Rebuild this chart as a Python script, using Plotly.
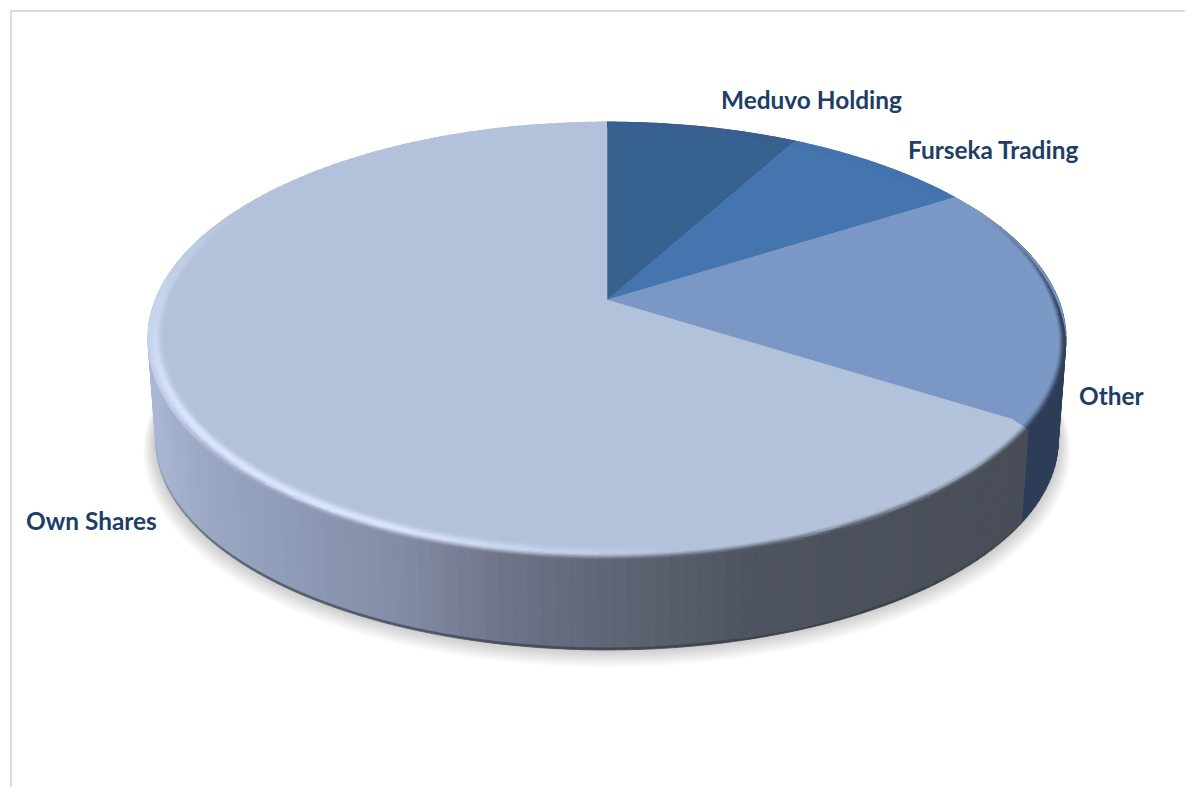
import math
from collections import defaultdict
import plotly.graph_objects as go

# Shareholder structure, clockwise from twelve o'clock
categories = ["Meduvo Holding", "Furseka Trading", "Other", "Own Shares"]
shares = [8, 8, 18, 66]

top_colors = ["#37618f", "#4575ae", "#7b97c5", "#b3c2db"]
LABEL_COLOR = "#203e65"
HIGHLIGHT = "#dbe6ff"

W, H = 1187, 787

# Perspective disc: upper and lower planes of the cylinder, in axis units
UPPER = dict(cx=607, cy=300, a=451.7, b=209.6, k=0.178)
LOWER = dict(cx=607, cy=403, a=444.0, b=203.0, k=0.178)


def project(theta, s=1.0, z=0.0):
    """Theta in degrees clockwise from the back; s radial fraction; z depth fraction."""
    t = math.radians(theta)
    u, v = s * math.sin(t), s * math.cos(t)
    pts = []
    for p in (UPPER, LOWER):
        w = 1 + p["k"] * v
        pts.append((p["cx"] + p["a"] * u / w, p["cy"] - p["b"] * v / w))
    return (pts[0][0] + (pts[1][0] - pts[0][0]) * z,
            pts[0][1] + (pts[1][1] - pts[0][1]) * z)


def rgb(c):
    return tuple(int(c[i:i + 2], 16) for i in (1, 3, 5))


def mix(a, b, f):
    f = max(0.0, min(1.0, f))
    return tuple(x + (y - x) * f for x, y in zip(a, b))


def css(c, q=2):
    return "rgb(%d,%d,%d)" % tuple(min(255, round(x / q) * q) for x in c)


def ramp(x, stops):
    if x <= stops[0][0]:
        return stops[0][1]
    for (x0, y0), (x1, y1) in zip(stops, stops[1:]):
        if x <= x1:
            return y0 + (y1 - y0) * (x - x0) / (x1 - x0)
    return stops[-1][1]


def smooth(f):
    f = max(0.0, min(1.0, f))
    return f * f * (3 - 2 * f)


# Angular extent of each slice, derived from the shares
total = sum(shares)
edges = [0.0]
for value in shares:
    edges.append(edges[-1] + 360.0 * value / total)


def angle_steps(step):
    """Segments of the circle split so that slice boundaries fall on segment ends."""
    out = []
    for i in range(len(shares)):
        n = max(1, round((edges[i + 1] - edges[i]) / step))
        d = (edges[i + 1] - edges[i]) / n
        out.extend((i, edges[i] + j * d, edges[i] + (j + 1) * d) for j in range(n))
    return out


WALL_STOPS = [(150, "#a9b7d4"), (200, "#9aa8c3"), (300, "#8d9ab5"), (400, "#838ca5"),
              (500, "#6f7489"), (620, "#5d6473"), (750, "#4e545f"), (1025, "#484d57")]
OTHER_WALL = "#2e3d57"


def wall_color(i, theta):
    if i != len(shares) - 1:
        return rgb(OTHER_WALL)
    x = project(theta)[0]
    for (x0, c0), (x1, c1) in zip(WALL_STOPS, WALL_STOPS[1:]):
        if x <= x1:
            return mix(rgb(c0), rgb(c1), (x - x0) / (x1 - x0))
    return rgb(WALL_STOPS[-1][1])


def highlight_weight(theta):
    return ramp(theta, [(172, 0), (188, 0.5), (205, 1), (240, 1), (265, 0.55), (285, 0.25), (298, 0)])


def wall_weight(theta):
    return ramp(theta, [(65, 0), (92, 1), (222, 1), (268, 0)])


def lip_weight(theta):
    return ramp(theta, [(100, 0), (150, 0.6), (225, 0.6), (262, 0)])


fig = go.Figure()


def add_polys(groups):
    for color, (xs, ys) in groups.items():
        fig.add_trace(go.Scatter(x=xs, y=ys, mode="lines", fill="toself",
                                 fillcolor=color, line=dict(color=color, width=0.8),
                                 hoverinfo="skip", showlegend=False))


def push(groups, color, poly):
    # Same winding for every polygon so overlaps in one path never cancel out
    area = sum(a[0] * b[1] - b[0] * a[1] for a, b in zip(poly, poly[1:] + poly[:1]))
    if area < 0:
        poly = poly[::-1]
    xs, ys = groups[color]
    xs.extend([p[0] for p in poly] + [poly[0][0], None])
    ys.extend([p[1] for p in poly] + [poly[0][1], None])


# Soft drop shadow below the body
for i in range(18, 0, -1):
    pts = [project(th, 1.0 + 0.0016 * i, 0.985 + 0.006 * i) for th in range(0, 361, 3)]
    fig.add_trace(go.Scatter(x=[p[0] for p in pts], y=[p[1] for p in pts], mode="lines",
                             fill="toself", fillcolor="rgba(40,40,40,0.012)",
                             line=dict(width=0), hoverinfo="skip", showlegend=False))

# Side wall, with a thin darker lip along its lower edge
wall_groups = defaultdict(lambda: ([], []))
for i, th0, th1 in angle_steps(1.5):
    mid = (th0 + th1) / 2
    if not 60 <= mid <= 290:
        continue
    col = wall_color(i, mid)
    bands = [(0.0, 0.978, col),
             (0.978, 1.0, mix(col, rgb("#2f3440"), lip_weight(mid)))]
    for z0, z1, c in bands:
        push(wall_groups, css(c, 1), [project(th0, 1, z0), project(th1, 1, z0),
                                      project(th1, 1, z1), project(th0, 1, z1)])
add_polys(wall_groups)

# Flat upper faces, one per slice
for i, name in enumerate(categories):
    n = max(2, int((edges[i + 1] - edges[i]) / 1.0))
    arc = [project(edges[i] + (edges[i + 1] - edges[i]) * j / n) for j in range(n + 1)]
    centre = project(0, 0)
    xs = [centre[0]] + [p[0] for p in arc] + [centre[0]]
    ys = [centre[1]] + [p[1] for p in arc] + [centre[1]]
    fig.add_trace(go.Scatter(x=xs, y=ys, mode="lines", fill="toself", name=name,
                             fillcolor=top_colors[i], line=dict(color=top_colors[i], width=0.6),
                             hoverinfo="skip", showlegend=False))

# Rounded bevel around the rim
S_IN = 0.965
Z_OUT = 0.06
PEAK = 0.55
BANDS = 12
hi = rgb(HIGHLIGHT)
rim_groups = defaultdict(lambda: ([], []))
for i, th0, th1 in angle_steps(1.5):
    mid = (th0 + th1) / 2
    top = rgb(top_colors[i])
    hw, ww = highlight_weight(mid), wall_weight(mid)
    peak = mix(top, hi, hw)
    outer = mix(peak, wall_color(i, mid), ww)
    for b in range(BANDS):
        t0, t1 = b / BANDS, (b + 1) / BANDS
        tm = (t0 + t1) / 2
        if tm < PEAK:
            c = mix(top, peak, smooth(tm / PEAK) ** 1.5)
        else:
            c = mix(peak, outer, smooth((tm - PEAK) / (1 - PEAK)))
        s0, s1 = S_IN + (1 - S_IN) * t0, S_IN + (1 - S_IN) * t1
        z0, z1 = Z_OUT * ww * t0, Z_OUT * ww * t1
        push(rim_groups, css(c), [project(th0, s0, z0), project(th1, s0, z0),
                                  project(th1, s1, z1), project(th0, s1, z1)])
add_polys(rim_groups)

# Category labels
label_x = [719, 906, 1077, 24]
label_y = [99, 149, 395, 520]
for name, x, y in zip(categories, label_x, label_y):
    fig.add_annotation(x=x, y=y, xref="x", yref="y", text=name, showarrow=False,
                       xanchor="left", yanchor="middle",
                       font=dict(family="Lato", size=24.4, color=LABEL_COLOR, weight=700))

# Frame of the chart area, open at the bottom and right
FRAME = "#dcdcdc"
fig.add_shape(type="line", x0=11, x1=11, y0=10, y1=H, line=dict(color=FRAME, width=2))
fig.add_shape(type="line", x0=10, x1=1185, y0=11, y1=11, line=dict(color=FRAME, width=2))

fig.update_layout(
    width=W, height=H, margin=dict(l=0, r=0, t=0, b=0),
    paper_bgcolor="white", plot_bgcolor="white", showlegend=False,
    xaxis=dict(range=[0, W], visible=False, fixedrange=True),
    yaxis=dict(range=[H, 0], visible=False, fixedrange=True),
)
fig.write_html("out.html", config=dict(displayModeBar=False))
